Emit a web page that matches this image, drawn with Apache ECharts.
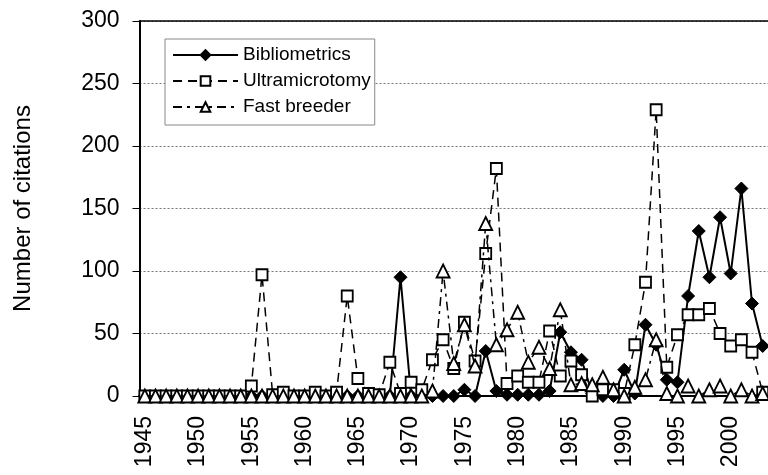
<!DOCTYPE html>
<html>
<head>
<meta charset="utf-8">
<script src="https://cdn.jsdelivr.net/npm/echarts@6/dist/echarts.min.js"></script>
<style>
  html, body { margin: 0; padding: 0; background: #fff; }
  #chart { width: 768px; height: 475px; }
</style>
</head>
<body>
<div id="chart"></div>
<script>
// years 1945 - 2003
const years = []
for (let y = 1945; y <= 2003; y++) years.push(String(y))

const bibliometrics = [
  0, 0, 0, 0, 0, 0, 0, 0, 0, 0,          // 1945-1954
  0, 0, 0, 0, 0, 0, 0, 0, 0, 0,          // 1955-1964
  0, 0, 0, 0, 95, 0, 0, 0, 0, 0,         // 1965-1974
  5, 0, 36, 4, 1, 1, 1, 1, 4, 51,        // 1975-1984
  35, 29, 2, 0, 0, 21, 2, 57, 41, 13,    // 1985-1994
  11, 80, 132, 95, 143, 98, 166, 74, 40  // 1995-2003
]

const ultramicrotomy = [
  0, 0, 0, 0, 0, 0, 0, 0, 0, 0,
  8, 97, 1, 3, 0, 0, 3, 0, 3, 80,
  14, 2, 1, 27, 2, 11, 5, 29, 45, 22,
  59, 28, 114, 182, 10, 16, 11, 11, 52, 16,
  28, 17, 0, 5, 5, 2, 41, 91, 229, 23,
  49, 65, 65, 70, 50, 40, 45, 35, 3
]

const fastBreeder = [
  0, 0, 0, 0, 0, 0, 0, 0, 0, 0,
  0, 0, 0, 0, 0, 0, 0, 0, 0, 0,
  0, 0, 0, 0, 0, 0, 0, 4, 100, 26,
  57, 24, 138, 41, 53, 67, 27, 39, 22, 69,
  9, 10, 9, 15, 5, 0, 7, 13, 45, 2,
  0, 8, 0, 5, 8, 0, 5, 0, 2
]

const font = 'Liberation Sans, Arial, sans-serif'

const chart = echarts.init(document.getElementById('chart'))

chart.setOption({
  animation: false,
  backgroundColor: '#fff',
  textStyle: { fontFamily: font, color: '#000' },
  grid: {
    left: 139.5,
    top: 21,
    height: 375,
    right: -5
  },
  legend: {
    orient: 'vertical',
    left: 165,
    top: 39,
    padding: [6, 4, 8, 7],
    itemGap: 6,
    itemWidth: 65,
    itemHeight: 12,
    borderColor: '#888',
    borderWidth: 1,
    backgroundColor: '#fff',
    textStyle: { fontSize: 19, fontFamily: font, color: '#000', lineHeight: 20 },
    data: ['Bibliometrics', 'Ultramicrotomy', 'Fast breeder']
  },
  xAxis: [
    {
      type: 'category',
      data: years,
      boundaryGap: true,
      axisLine: { lineStyle: { color: '#000', width: 2 } },
      axisTick: { interval: 0, length: 6, lineStyle: { color: '#000', width: 1 } },
      axisLabel: {
        interval: 4,
        rotate: 90,
        margin: 20,
        fontSize: 23,
        fontFamily: font,
        color: '#000'
      },
      splitLine: { show: false }
    },
    {
      type: 'category',
      data: years,
      position: 'top',
      axisLine: { lineStyle: { color: '#000', width: 1.5 } },
      axisTick: { show: false },
      axisLabel: { show: false }
    }
  ],
  yAxis: {
    type: 'value',
    min: 0,
    max: 300,
    interval: 50,
    name: 'Number of citations',
    nameLocation: 'middle',
    nameGap: 104,
    nameTextStyle: { fontSize: 24, fontFamily: font, color: '#000' },
    axisLine: { show: true, lineStyle: { color: '#000', width: 2 } },
    axisTick: { show: true, length: 7, lineStyle: { color: '#000' } },
    axisLabel: { margin: 20, fontSize: 23, fontFamily: font, color: '#000' },
    splitLine: { lineStyle: { color: '#777', type: [2, 2], width: 1 } }
  },
  series: [
    {
      name: 'Bibliometrics',
      type: 'line',
      data: bibliometrics,
      showAllSymbol: true,
      symbol: 'diamond',
      symbolSize: 13,
      lineStyle: { color: '#000', width: 2, type: 'solid' },
      itemStyle: { color: '#000', borderColor: '#000', borderWidth: 1 },
      z: 2
    },
    {
      name: 'Ultramicrotomy',
      type: 'line',
      data: ultramicrotomy,
      showAllSymbol: true,
      symbol: 'rect',
      symbolSize: 11,
      lineStyle: { color: '#000', width: 1.5, type: [9, 6] },
      itemStyle: { color: '#fff', borderColor: '#000', borderWidth: 1.8 },
      z: 3
    },
    {
      name: 'Fast breeder',
      type: 'line',
      data: fastBreeder,
      showAllSymbol: true,
      symbol: 'triangle',
      symbolSize: 13,
      lineStyle: { color: '#000', width: 1.5, type: [9, 5, 3, 5] },
      itemStyle: { color: '#fff', borderColor: '#000', borderWidth: 1.8 },
      z: 4
    }
  ]
})
</script>
</body>
</html>
